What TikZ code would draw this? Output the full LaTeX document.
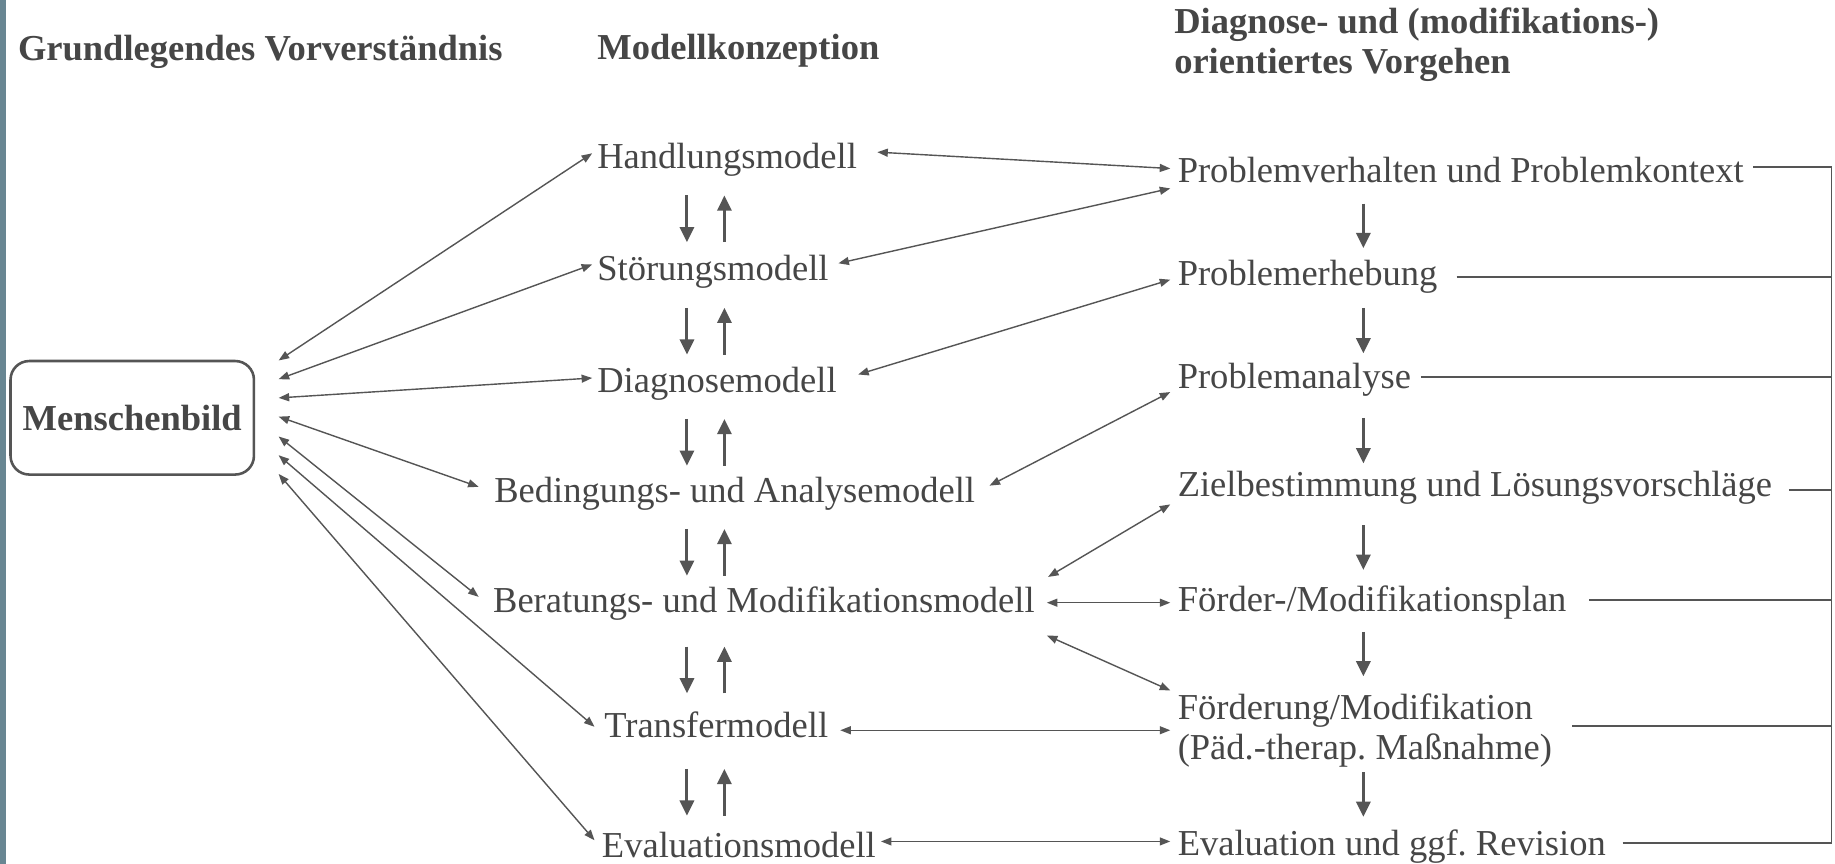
\documentclass[tikz,border=0pt]{standalone}
\usepackage{fontspec}
\setmainfont{Liberation Serif}
\usetikzlibrary{arrows.meta,calc}
\definecolor{ink}{RGB}{70,70,70}
\definecolor{wire}{RGB}{85,85,85}
\definecolor{slate}{RGB}{104,134,146}
\begin{document}
\begin{tikzpicture}[x=0.5pt,y=-0.5pt,
  font=\fontsize{15.6}{17}\selectfont, text=ink,
  lbl/.style={anchor=west, inner sep=0pt, text height=0.92em, text depth=0.06em},
  hdr/.style={lbl, font=\fontsize{15.6}{17}\selectfont\bfseries},
  bi/.style={draw=wire, line width=0.6pt, {Triangle[length=4.5pt,width=3.4pt]}-{Triangle[length=4.5pt,width=3.4pt]}},
  varr/.style={draw=wire, line width=1.3pt, -{Triangle[length=6.5pt,width=6pt]}},
  brk/.style={draw=wire, line width=0.8pt}]
\useasboundingbox (0,0) rectangle (1568,738);
\fill[white] (0,0) rectangle (1568,738);
\fill[slate] (0,0) rectangle (5,738);

% headers
\node[hdr] (h1) at (15,43) {Grundlegendes Vorverständnis};
\node[hdr] (h2) at (510,42) {Modellkonzeption};
\node[hdr] (h3) at (1003,20) {Diagnose- und (modifikations-)};
\node[hdr] (h4) at (1003,54) {orientiertes Vorgehen};

% Menschenbild
\node[draw=wire, line width=1.1pt, rounded corners=8pt, minimum width=104pt, minimum height=48.5pt,
      inner sep=0pt, font=\fontsize{15.6}{17}\selectfont\bfseries] (M) at (113,357) {Menschenbild};

% middle column
\node[lbl] (H)  at (510,135) {Handlungsmodell};
\node[lbl] (S)  at (510,231) {Störungsmodell};
\node[lbl] (D)  at (510,327) {Diagnosemodell};
\node[lbl] (B)  at (422,421) {Bedingungs- und Analysemodell};
\node[lbl] (Be) at (421,515) {Beratungs- und Modifikationsmodell};
\node[lbl] (T)  at (516,622) {Transfermodell};
\node[lbl] (E)  at (514,724) {Evaluationsmodell};

% right column
\node[lbl] (P1) at (1006,147) {Problemverhalten und Problemkontext};
\node[lbl] (P2) at (1006,235) {Problemerhebung};
\node[lbl] (P3) at (1006,323) {Problemanalyse};
\node[lbl] (P4) at (1006,416) {Zielbestimmung und Lösungsvorschläge};
\node[lbl] (P5) at (1006,514) {Förder-/Modifikationsplan};
\node[anchor=west, inner sep=0pt, align=left] (P6) at (1006,624) {Förderung/Modifikation\\(Päd.-therap.\ Maßnahme)};
\node[lbl] (P7) at (1006,722) {Evaluation und ggf.\ Revision};

% Menschenbild fan
\draw[bi] ([shift={(20,-49)}]M.east) -- ([shift={(-4,-4)}]H.west);
\draw[bi] ([shift={(20,-33)}]M.east) -- ([shift={(-4,-5)}]S.west);
\draw[bi] ([shift={(20,-17)}]M.east) -- ([shift={(-4,-4)}]D.west);
\draw[bi] ([shift={(20,-1)}]M.east)  -- ([shift={(-13,-5)}]B.west);
\draw[bi] ([shift={(20,16)}]M.east)  -- ([shift={(-12,-5)}]Be.west);
\draw[bi] ([shift={(20,32)}]M.east)  -- ([shift={(-8,-1)}]T.west);
\draw[bi] ([shift={(20,48)}]M.east)  -- ([shift={(-6,-6)}]E.west);

% cross connectors
\draw[bi] ([shift={(17,-5)}]H.east)  -- ([shift={(-6,-3)}]P1.west);
\draw[bi] ([shift={(8,-6)}]S.east)   -- ([shift={(-6,14)}]P1.west);
\draw[bi] ([shift={(18,-7)}]D.east)  -- ([shift={(-6,4)}]P2.west);
\draw[bi] ([shift={(12,-6)}]B.east)  -- ([shift={(-6,12)}]P3.west);
\draw[bi] ([shift={(11,-22)}]Be.east) -- ([shift={(-6,15)}]P4.west);
\draw[bi] ([shift={(10,0)}]Be.east)  -- ([shift={(-6,1)}]P5.west);
\draw[bi] ([shift={(10,28)}]Be.east) -- ([shift={(-6,-34)}]P6.west);
\draw[bi] ([shift={(10,2)}]T.east)   -- ([shift={(-6,0)}]P6.west);
\draw[bi] ([shift={(4,-5)}]E.east)   -- ([shift={(-6,-3)}]P7.west);

% middle vertical arrow pairs
\foreach \a/\b in {H/S, S/D, D/B, B/Be, Be/T, T/E} {
  \path ($(\a.west)!.5!(\b.west)$) coordinate (mid);
  \draw[varr] ($(H.west |- mid)+(77,-16)$) -- ($(H.west |- mid)+(77,24)$);
  \draw[varr] ($(H.west |- mid)+(109,24)$) -- ($(H.west |- mid)+(109,-16)$);
}

% right column down arrows
\foreach \a/\b/\s/\e in {P1/P2/27/-23, P2/P3/28/-21, P3/P4/34/-20, P4/P5/33/-27, P5/P6/26/-46, P6/P7/36/-24} {
  \draw[varr] ($(P1.west |- \a.west)+(159,\s)$) -- ($(P1.west |- \b.west)+(159,\e)$);
}

% bracket
\coordinate (rb) at (1565,0);
\path ([shift={(8,-4.5)}]P1.east) coordinate (r1)
      ([shift={(16,2)}]P2.east) coordinate (r2)
      ([shift={(8,-1)}]P3.east) coordinate (r3)
      ([shift={(14,3)}]P4.east) coordinate (r4)
      ([shift={(19,-1)}]P5.east) coordinate (r5)
      ([shift={(17,-4)}]P6.east) coordinate (r6)
      ([shift={(14,-2)}]P7.east) coordinate (r7);
\foreach \r in {r1,r2,r3,r4,r5,r6,r7} {
  \draw[brk] (\r) -- (\r -| rb);
}
\draw[brk] (r1 -| rb) -- (r7 -| rb);
\end{tikzpicture}
\end{document}
